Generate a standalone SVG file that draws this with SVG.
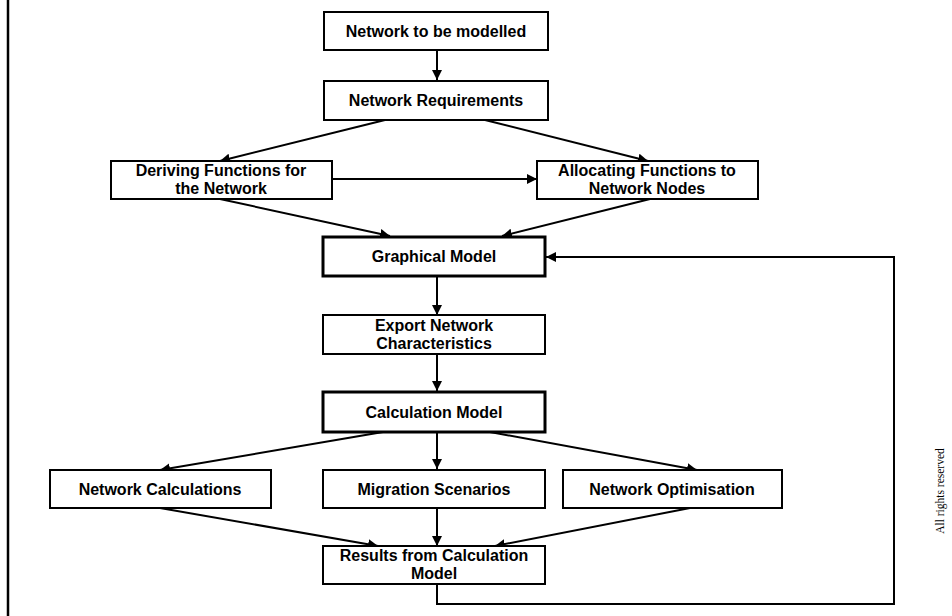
<svg xmlns="http://www.w3.org/2000/svg" width="952" height="616" viewBox="0 0 952 616">
<style>
.box{fill:#fff;stroke:#000;stroke-width:2}
.thick{stroke-width:3}
.t{font-family:"Liberation Sans",Arial,sans-serif;font-weight:bold;font-size:16px;text-anchor:middle;fill:#000}
.c{fill:none;stroke:#000;stroke-width:2}
</style>
<defs>
<marker id="a" viewBox="0 0 10 10" refX="10" refY="5" markerWidth="5" markerHeight="5" orient="auto" markerUnits="strokeWidth">
<path d="M0,0 L10,5 L0,10 z" fill="#000"/>
</marker>
</defs>
<rect width="952" height="616" fill="#fff"/>
<line x1="8" y1="0" x2="8" y2="616" stroke="#000" stroke-width="2.5"/>
<g id="connectors">
<line class="c" x1="437" y1="50" x2="437" y2="80" marker-end="url(#a)"/>
<line class="c" x1="385" y1="120" x2="220" y2="161" marker-end="url(#a)"/>
<line class="c" x1="485" y1="120" x2="648" y2="161" marker-end="url(#a)"/>
<line class="c" x1="332" y1="179" x2="537" y2="179" marker-end="url(#a)"/>
<line class="c" x1="220" y1="199" x2="390" y2="236" marker-end="url(#a)"/>
<line class="c" x1="650" y1="199" x2="502" y2="236" marker-end="url(#a)"/>
<line class="c" x1="437" y1="276" x2="437" y2="315" marker-end="url(#a)"/>
<line class="c" x1="437" y1="354" x2="437" y2="391" marker-end="url(#a)"/>
<line class="c" x1="383" y1="432" x2="160" y2="470" marker-end="url(#a)"/>
<line class="c" x1="437" y1="432" x2="437" y2="469" marker-end="url(#a)"/>
<line class="c" x1="490" y1="432" x2="697" y2="470" marker-end="url(#a)"/>
<line class="c" x1="160" y1="508" x2="378" y2="546" marker-end="url(#a)"/>
<line class="c" x1="437" y1="508" x2="437" y2="546" marker-end="url(#a)"/>
<line class="c" x1="690" y1="508" x2="495" y2="546" marker-end="url(#a)"/>
<polyline class="c" points="437,584 437,604 894,604 894,257 546,257" marker-end="url(#a)"/>
</g>
<g id="n1"><rect class="box" x="324" y="12" width="224" height="38"/><text class="t" x="436" y="37">Network to be modelled</text></g>
<g id="n2"><rect class="box" x="324" y="81" width="224" height="39"/><text class="t" x="436" y="106">Network Requirements</text></g>
<g id="n3"><rect class="box" x="111" y="161" width="221" height="38"/><text class="t" x="221" y="176">Deriving Functions for</text><text class="t" x="221" y="194">the Network</text></g>
<g id="n4"><rect class="box" x="537" y="161" width="221" height="38"/><text class="t" x="647" y="176">Allocating Functions to</text><text class="t" x="647" y="194">Network Nodes</text></g>
<g id="n5"><rect class="box thick" x="323" y="237" width="222" height="39"/><text class="t" x="434" y="262">Graphical Model</text></g>
<g id="n6"><rect class="box" x="323" y="315" width="222" height="39"/><text class="t" x="434" y="331">Export Network</text><text class="t" x="434" y="349">Characteristics</text></g>
<g id="n7"><rect class="box thick" x="323" y="392" width="222" height="40"/><text class="t" x="434" y="418">Calculation Model</text></g>
<g id="n8"><rect class="box" x="50" y="470" width="221" height="38"/><text class="t" x="160" y="495">Network Calculations</text></g>
<g id="n9"><rect class="box" x="323" y="470" width="222" height="38"/><text class="t" x="434" y="495">Migration Scenarios</text></g>
<g id="n10"><rect class="box" x="563" y="470" width="219" height="38"/><text class="t" x="672" y="495">Network Optimisation</text></g>
<g id="n11"><rect class="box" x="323" y="546" width="222" height="38"/><text class="t" x="434" y="561">Results from Calculation</text><text class="t" x="434" y="579">Model</text></g>
<text x="944" y="491" transform="rotate(-90 944 491)" font-family="'Liberation Serif',serif" font-size="11.5" text-anchor="middle" fill="#000">All rights reserved</text>
</svg>
